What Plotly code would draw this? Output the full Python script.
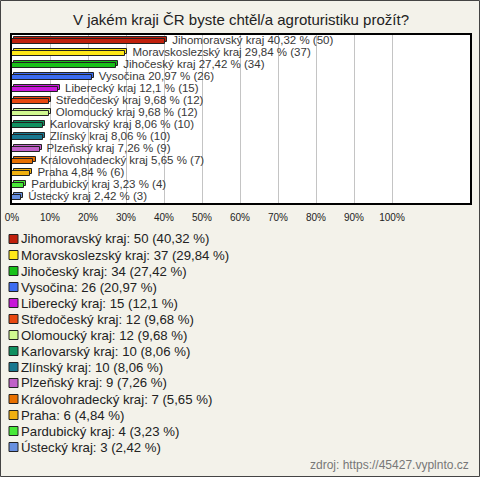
import plotly.graph_objects as go

# ---- data ----
regions = ["Jihomoravský kraj", "Moravskoslezský kraj", "Jihočeský kraj", "Vysočina",
           "Liberecký kraj", "Středočeský kraj", "Olomoucký kraj", "Karlovarský kraj",
           "Zlínský kraj", "Plzeňský kraj", "Královohradecký kraj", "Praha",
           "Pardubický kraj", "Ústecký kraj"]
counts = [50, 37, 34, 26, 15, 12, 12, 10, 10, 9, 7, 6, 4, 3]
percents = [40.32, 29.84, 27.42, 20.97, 12.1, 9.68, 9.68, 8.06, 8.06, 7.26, 5.65, 4.84, 3.23, 2.42]
colors = ["#c0200c", "#ffe818", "#18c018", "#3c6cf0", "#c818d8", "#e84810", "#d0f890",
          "#109060", "#187890", "#c060c8", "#e87000", "#f0b010", "#48e838", "#6890e0"]
tick_vals = [0, 10, 20, 30, 40, 50, 60, 70, 80, 90, 100]
tick_text = [f"{v}%" for v in tick_vals]
title_text = "V jakém kraji ČR byste chtěl/a agroturistiku prožít?"
source_text = "zdroj: https://45427.vyplnto.cz"

W, H = 480, 477
L, R, T, B = 12, 10, 35, 274
PW, PH = W - L - R, H - T - B
FONT = "Arial, Liberation Sans, sans-serif"


def px_x(px):
    return (px - L) / PW


def px_y(py):
    return (H - B - py) / PH


def fmt(p):
    return str(p).replace(".", ",")


n = len(regions)
ys = list(range(n))
depth_x = 0.55   # in % units (~2px)

fig = go.Figure()

# back (depth) face
fig.add_trace(go.Bar(
    y=ys, x=percents, base=[depth_x] * n, orientation="h",
    width=0.36, offset=-0.30,
    marker=dict(color=colors, line=dict(color="#222222", width=1)),
    hoverinfo="skip", showlegend=False))
# front face
fig.add_trace(go.Bar(
    y=ys, x=percents, orientation="h",
    width=0.36, offset=-0.14,
    marker=dict(color=colors, line=dict(color="#222222", width=1)),
    hoverinfo="skip", showlegend=False))
# value labels
fig.add_trace(go.Scatter(
    y=ys, x=[p + depth_x + 1.3 for p in percents], mode="text",
    text=[f"{r} {fmt(p)} % ({c})" for r, p, c in zip(regions, percents, counts)],
    textposition="middle right",
    textfont=dict(family=FONT, size=11.5, color="#383838"),
    cliponaxis=False, hoverinfo="skip", showlegend=False))

shapes = []
annotations = []
# legend
for i, (r, c, p, col) in enumerate(zip(regions, counts, percents, colors)):
    cy = 239 + 16 * i
    shapes.append(dict(type="rect", xref="paper", yref="paper",
                       x0=px_x(9), x1=px_x(18), y0=px_y(cy + 4.5), y1=px_y(cy - 4.5),
                       fillcolor=col, line=dict(color="#222222", width=1)))
    annotations.append(dict(xref="paper", yref="paper", x=px_x(19), y=px_y(cy),
                            xanchor="left", yanchor="middle", showarrow=False,
                            text=f"{r}: {c} ({fmt(p)} %)",
                            font=dict(family=FONT, size=13.2, color="#222222")))

# source
annotations.append(dict(xref="paper", yref="paper", x=px_x(471), y=px_y(465),
                        xanchor="right", yanchor="middle", showarrow=False,
                        text=source_text, font=dict(family=FONT, size=12, color="#777777")))

# outer frame
shapes.append(dict(type="rect", xref="paper", yref="paper",
                   x0=px_x(0.5), x1=px_x(W - 0.5), y0=px_y(H - 0.5), y1=px_y(0.5),
                   line=dict(color="#444444", width=1), fillcolor="rgba(0,0,0,0)"))

fig.update_layout(
    width=W, height=H,
    margin=dict(l=L, r=R, t=T, b=B, pad=0, autoexpand=False),
    paper_bgcolor="#f3f2ea", plot_bgcolor="#ffffff",
    barmode="overlay", bargap=0,
    showlegend=False,
    title=dict(text=title_text, x=0.5, xanchor="center", xref="paper",
               y=1 - 20 / H, yanchor="middle",
               font=dict(family=FONT, size=15, color="#222222")),
    shapes=shapes, annotations=annotations,
    xaxis=dict(range=[0, PW / 3.8], tickvals=tick_vals, ticktext=tick_text,
               showgrid=True, gridcolor="#c4c4c4", gridwidth=1, zeroline=False,
               showline=True, linecolor="#000000", linewidth=2, mirror=True,
               ticks="", ticklabelstandoff=4,
               tickfont=dict(family=FONT, size=10, color="#222222"),
               automargin=False, fixedrange=True),
    yaxis=dict(range=[n - 0.5, -0.5], showticklabels=False, showgrid=False,
               zeroline=False, showline=True, linecolor="#000000", linewidth=2,
               mirror=True, ticks="", automargin=False, fixedrange=True),
)

fig.write_html("out.html", config={"displayModeBar": False},
               post_script="document.body.style.margin='0';document.body.style.overflow='hidden';")
